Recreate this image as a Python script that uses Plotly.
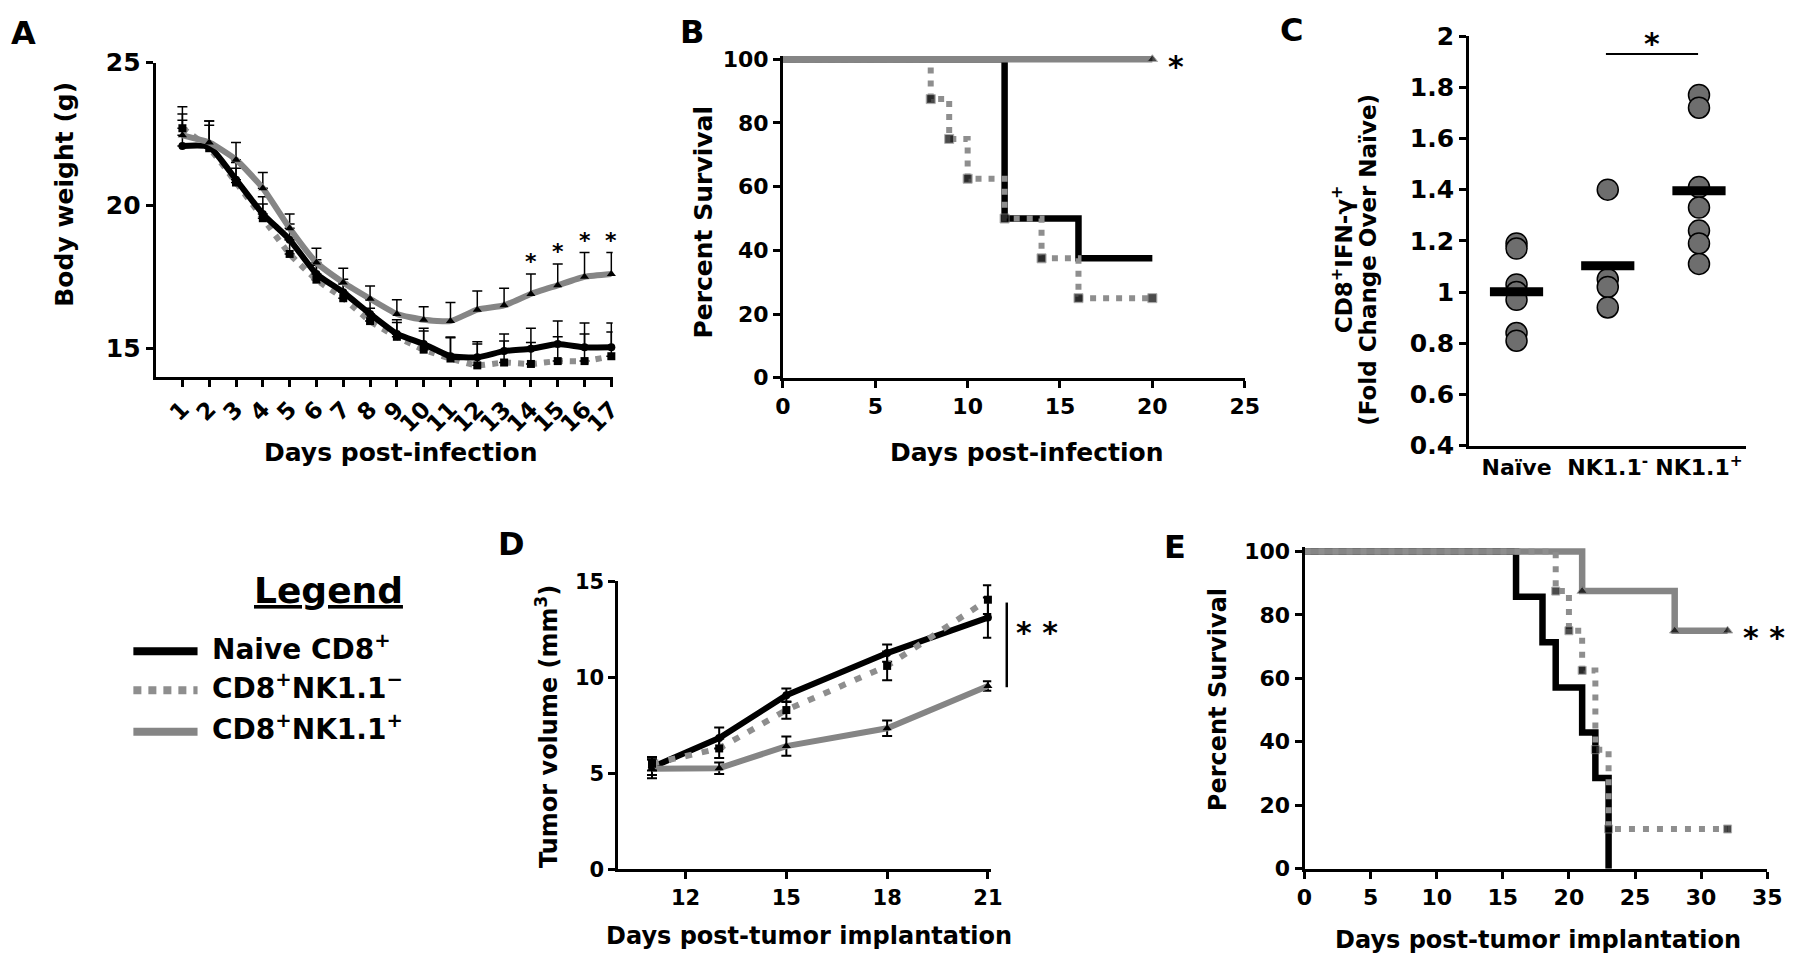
import plotly.graph_objects as go

W, H = 1800, 969
FONT = "DejaVu Sans, Liberation Sans, Arial, sans-serif"
BLACK = "#000000"
GREY = "#858585"
GREY_DOT = "#8e8e8e"

# ---- A: body weight after infection (mean, upper SEM)
days_a = list(range(1, 18))
bw_naive = [22.08, 22.05, 20.9, 19.7, 18.8, 17.6, 16.96, 16.2, 15.5, 15.15, 14.72, 14.68, 14.9, 14.98, 15.15, 15.03, 15.03]
bw_naive_err = [0.9, 0.9, 0.6, 0.6, 0.55, 0.5, 0.45, 0.5, 0.5, 0.55, 0.65, 0.55, 0.6, 0.72, 0.8, 0.85, 0.85]
bw_nkneg = [22.7, 22.0, 20.8, 19.55, 18.3, 17.4, 16.75, 15.95, 15.4, 14.95, 14.64, 14.4, 14.5, 14.45, 14.55, 14.55, 14.72]
bw_nkneg_err = [0.5, 0.8, 0.5, 0.5, 0.5, 0.5, 0.5, 0.45, 0.5, 0.65, 0.75, 0.75, 0.75, 0.75, 0.85, 0.95, 0.85]
bw_nkpos = [22.45, 22.2, 21.6, 20.6, 19.2, 18.0, 17.3, 16.73, 16.2, 16.0, 15.95, 16.35, 16.5, 16.9, 17.2, 17.5, 17.6]
bw_nkpos_err = [1.0, 0.75, 0.6, 0.55, 0.5, 0.5, 0.5, 0.45, 0.5, 0.45, 0.65, 0.65, 0.6, 0.7, 0.75, 0.85, 0.75]
sig_days_a = [14, 15, 16, 17]

# ---- B: survival after infection
b_naive_x = [0, 12, 16, 20]
b_naive_y = [100, 50, 37.5, 37.5]
b_nkneg_x = [0, 8, 9, 10, 12, 14, 16, 20]
b_nkneg_y = [100, 87.5, 75, 62.5, 50, 37.5, 25, 25]
b_nkpos_x = [0, 20]
b_nkpos_y = [100, 100]

# ---- C: CD8+IFN-g+ fold change
c_groups = ["Naïve", "NK1.1<sup>-</sup>", "NK1.1<sup>+</sup>"]
c_naive = [1.19, 1.17, 1.03, 1.0, 0.97, 0.84, 0.81]
c_nkneg = [1.40, 1.05, 1.02, 0.94]
c_nkpos = [1.77, 1.72, 1.41, 1.33, 1.24, 1.19, 1.11]
c_ticks = [0.4, 0.6, 0.8, 1.0, 1.2, 1.4, 1.6, 1.8, 2.0]
c_ticktext = ["0.4", "0.6", "0.8", "1", "1.2", "1.4", "1.6", "1.8", "2"]

# ---- D: tumour volume
days_d = [11, 13, 15, 18, 21]
tv_naive = [5.32, 6.84, 9.07, 11.27, 13.12]
tv_naive_err = [0.4, 0.55, 0.35, 0.45, 1.05]
tv_nkneg = [5.5, 6.3, 8.3, 10.6, 14.05]
tv_nkneg_err = [0.35, 0.5, 0.45, 0.75, 0.75]
tv_nkpos = [5.24, 5.27, 6.42, 7.35, 9.55]
tv_nkpos_err = [0.5, 0.3, 0.5, 0.4, 0.25]

# ---- E: survival after tumour implantation
e_naive_x = [0, 16, 18, 19, 21, 22, 23]
e_naive_y = [100, 85.7, 71.4, 57.1, 42.9, 28.6, 0]
e_nkneg_x = [0, 19, 20, 21, 22, 23, 32]
e_nkneg_y = [100, 87.5, 75, 62.5, 37.5, 12.5, 12.5]
e_nkpos_x = [0, 21, 28, 32]
e_nkpos_y = [100, 87.5, 75, 75]

legend_labels = ["Naive CD8<sup>+</sup>", "CD8<sup>+</sup>NK1.1<sup>−</sup>", "CD8<sup>+</sup>NK1.1<sup>+</sup>"]


def px(x):
    return x / W


def py(y):
    return 1 - y / H


def font(size, color=BLACK):
    return dict(family=FONT, size=size, color=color, weight="bold")


def axis(left, right, rng, tsize=22, **kw):
    d = dict(domain=[px(left), px(right)], range=rng, showline=True, linecolor=BLACK,
             linewidth=3, ticks="outside", ticklen=7, tickwidth=3, tickcolor=BLACK,
             showgrid=False, zeroline=False, tickfont=font(tsize), fixedrange=True)
    d.update(kw)
    return d


def yaxis(top, bottom, rng, anchor, tsize=22, **kw):
    d = axis(0, 1, rng, tsize, anchor=anchor, **kw)
    d["domain"] = [py(bottom), py(top)]
    return d


def sizes(n, s=9):
    return [0] + [s] * (n - 1)


fig = go.Figure()

# A
for y, err, col, dash, sym in [
    (bw_nkneg, bw_nkneg_err, GREY_DOT, "6px,7px", "square"),
    (bw_naive, bw_naive_err, BLACK, None, "circle"),
    (bw_nkpos, bw_nkpos_err, GREY, None, "triangle-up"),
]:
    fig.add_trace(go.Scatter(
        x=days_a, y=y, mode="lines+markers", xaxis="x", yaxis="y", cliponaxis=False,
        line=dict(color=col, width=6, dash=dash, shape="spline", smoothing=0.5),
        marker=dict(symbol=sym, size=8, color=BLACK),
        error_y=dict(type="data", array=err, arrayminus=[0] * len(err), symmetric=False,
                     color=BLACK, thickness=1.5, width=5),
        showlegend=False))

# B
fig.add_trace(go.Scatter(x=b_naive_x, y=b_naive_y, mode="lines", xaxis="x2", yaxis="y2",
                         line=dict(color=BLACK, width=6.5, shape="hv"), showlegend=False))
fig.add_trace(go.Scatter(x=b_nkneg_x, y=b_nkneg_y, mode="lines+markers", xaxis="x2", yaxis="y2",
                         cliponaxis=False,
                         line=dict(color=GREY_DOT, width=6, dash="6px,7px", shape="hv"),
                         marker=dict(symbol="square", size=sizes(len(b_nkneg_x)), color=BLACK),
                         showlegend=False))
fig.add_trace(go.Scatter(x=b_nkpos_x, y=b_nkpos_y, mode="lines+markers", xaxis="x2", yaxis="y2",
                         cliponaxis=False, line=dict(color=GREY, width=6.5, shape="hv"),
                         marker=dict(symbol="triangle-up", size=sizes(len(b_nkpos_x)), color=BLACK),
                         showlegend=False))

# C
c_data = [c_naive, c_nkneg, c_nkpos]
for i, vals in enumerate(c_data):
    fig.add_trace(go.Scatter(x=[i] * len(vals), y=vals, mode="markers", xaxis="x3", yaxis="y3",
                             cliponaxis=False,
                             marker=dict(symbol="circle", size=21, color="#6e6e6e",
                                         line=dict(color=BLACK, width=1.5)),
                             showlegend=False))
c_means = [sum(v) / len(v) for v in c_data]
fig.add_trace(go.Scatter(x=[0, 1, 2], y=c_means, mode="markers", xaxis="x3", yaxis="y3",
                         marker=dict(symbol="line-ew", size=38, line=dict(color=BLACK, width=9)),
                         showlegend=False))

# D
for y, err, col, dash, sym in [
    (tv_naive, tv_naive_err, BLACK, None, "circle"),
    (tv_nkpos, tv_nkpos_err, GREY, None, "triangle-up"),
    (tv_nkneg, tv_nkneg_err, GREY_DOT, "7px,10px", "square"),
]:
    fig.add_trace(go.Scatter(
        x=days_d, y=y, mode="lines+markers", xaxis="x4", yaxis="y4", cliponaxis=False,
        line=dict(color=col, width=6, dash=dash),
        marker=dict(symbol=sym, size=8, color=BLACK),
        error_y=dict(type="data", array=err, color=BLACK, thickness=2, width=5),
        showlegend=False))

# E
fig.add_trace(go.Scatter(x=e_naive_x, y=e_naive_y, mode="lines", xaxis="x5", yaxis="y5",
                         line=dict(color=BLACK, width=6.5, shape="hv"), showlegend=False))
fig.add_trace(go.Scatter(x=e_nkpos_x, y=e_nkpos_y, mode="lines+markers", xaxis="x5", yaxis="y5",
                         cliponaxis=False, line=dict(color=GREY, width=6.5, shape="hv"),
                         marker=dict(symbol="triangle-up", size=sizes(len(e_nkpos_x)), color=BLACK),
                         showlegend=False))
fig.add_trace(go.Scatter(x=e_nkneg_x, y=e_nkneg_y, mode="lines+markers", xaxis="x5", yaxis="y5",
                         cliponaxis=False,
                         line=dict(color=GREY_DOT, width=6, dash="6px,8px", shape="hv"),
                         marker=dict(symbol="square", size=sizes(len(e_nkneg_x), 8), color=BLACK),
                         showlegend=False))

ann = []
shapes = []

# panel letters
for letter, x, y in [("A", 16, 20), ("B", 693, 19), ("C", 1300, 16), ("D", 510, 546), ("E", 1182, 549)]:
    ann.append(dict(text=letter, x=px(x), y=py(y), xref="paper", yref="paper", showarrow=False,
                    font=font(32), xanchor="center", yanchor="middle"))

# axis titles
for text, x, y, angle, size in [
    ("Body weight (g)", 57, 186, -90, 25),
    ("Days post-infection", 398.5, 452, 0, 25),
    ("Percent Survival", 705, 214, -90, 25),
    ("Days post-infection", 1032.5, 452, 0, 25),
    ("CD8<sup>+</sup>IFN-γ<sup>+</sup>", 1352, 253, -90, 23),
    ("(Fold Change Over Naïve)", 1378, 253, -90, 23),
    ("Tumor volume (mm<sup>3</sup>)", 546, 735, -90, 24),
    ("Days post-tumor implantation", 811.7, 950, 0, 24),
    ("Percent Survival", 1226, 707, -90, 24),
    ("Days post-tumor implantation", 1550, 955, 0, 24),
]:
    ann.append(dict(text=text, x=px(x), y=py(y), xref="paper", yref="paper", showarrow=False,
                    font=font(size), textangle=angle, xanchor="center", yanchor="middle"))

# significance marks
for d in sig_days_a:
    i = days_a.index(d)
    ann.append(dict(text="*", x=d, y=bw_nkpos[i] + bw_nkpos_err[i], xref="x", yref="y",
                    showarrow=False, font=font(22), yshift=12))
ann.append(dict(text="*", x=21.26, y=100, xref="x2", yref="y2", showarrow=False, font=font(30),
                yshift=-7))
shapes.append(dict(type="line", x0=0.98, x1=1.99, y0=1.93, y1=1.93, xref="x3", yref="y3",
                   line=dict(color=BLACK, width=2)))
ann.append(dict(text="*", x=1.49, y=1.93, xref="x3", yref="y3", showarrow=False, font=font(30),
                yshift=10))
shapes.append(dict(type="line", x0=px(1011.7), x1=px(1011.7), y0=py(606.7), y1=py(694),
                   xref="paper", yref="paper", line=dict(color=BLACK, width=2.5)))
ann.append(dict(text="* *", x=px(1042.7), y=py(658), xref="paper", yref="paper", showarrow=False,
                font=font(30)))
ann.append(dict(text="* *", x=33.8, y=75, xref="x5", yref="y5", showarrow=False, font=font(30),
                xanchor="left", xshift=-10, yshift=-7))

# legend block
ann.append(dict(text="<u>Legend</u>", x=px(247), y=py(594), xref="paper", yref="paper",
                showarrow=False, font=font(36)))
for label, y, col, dash in [
    (legend_labels[0], 657, BLACK, None),
    (legend_labels[1], 697, GREY_DOT, "8px,7px"),
    (legend_labels[2], 740, GREY, None),
]:
    shapes.append(dict(type="line", x0=px(127), x1=px(192), y0=py(y), y1=py(y), xref="paper",
                       yref="paper", line=dict(color=col, width=8, dash=dash)))
    ann.append(dict(text=label, x=px(205), y=py(y - 4), xref="paper", yref="paper",
                    showarrow=False, font=font(28), xanchor="left", yanchor="middle"))

fig.update_layout(
    width=W, height=H, margin=dict(l=0, r=0, t=0, b=0),
    paper_bgcolor="white", plot_bgcolor="white", showlegend=False,
    xaxis=axis(149.5, 612.5, [0, 17.05], tsize=23, tickvals=days_a, tickangle=-45, anchor="y"),
    yaxis=yaxis(50, 374, [14, 25], "x", tsize=25, tickvals=[15, 20, 25]),
    xaxis2=axis(785, 1252.7, [0, 25], dtick=5, tick0=0, anchor="y2"),
    yaxis2=yaxis(43.4, 375, [0, 101], "x2", tickvals=[0, 20, 40, 60, 80, 100]),
    xaxis3=axis(1480, 1760, [-0.52, 2.51], tsize=22, tickvals=[0, 1, 2], ticktext=c_groups,
                ticks="", tickangle=0, anchor="y3"),
    yaxis3=yaxis(22.7, 445, [0.4, 2.0], "x3", tsize=25, tickvals=c_ticks, ticktext=c_ticktext),
    xaxis4=axis(618.3, 996, [10, 21.1], tsize=21, tickvals=[12, 15, 18, 21], anchor="y4"),
    yaxis4=yaxis(585, 881.7, [0, 15], "x4", tsize=21, tickvals=[0, 5, 10, 15]),
    xaxis5=axis(1313.3, 1782, [0, 35], dtick=5, tick0=0, anchor="y5"),
    yaxis5=yaxis(549.1, 881, [0, 101.5], "x5", tickvals=[0, 20, 40, 60, 80, 100]),
    annotations=ann, shapes=shapes,
)

fig.write_html("out.html", config={"displayModeBar": False},
               post_script="document.body.style.margin='0';")
